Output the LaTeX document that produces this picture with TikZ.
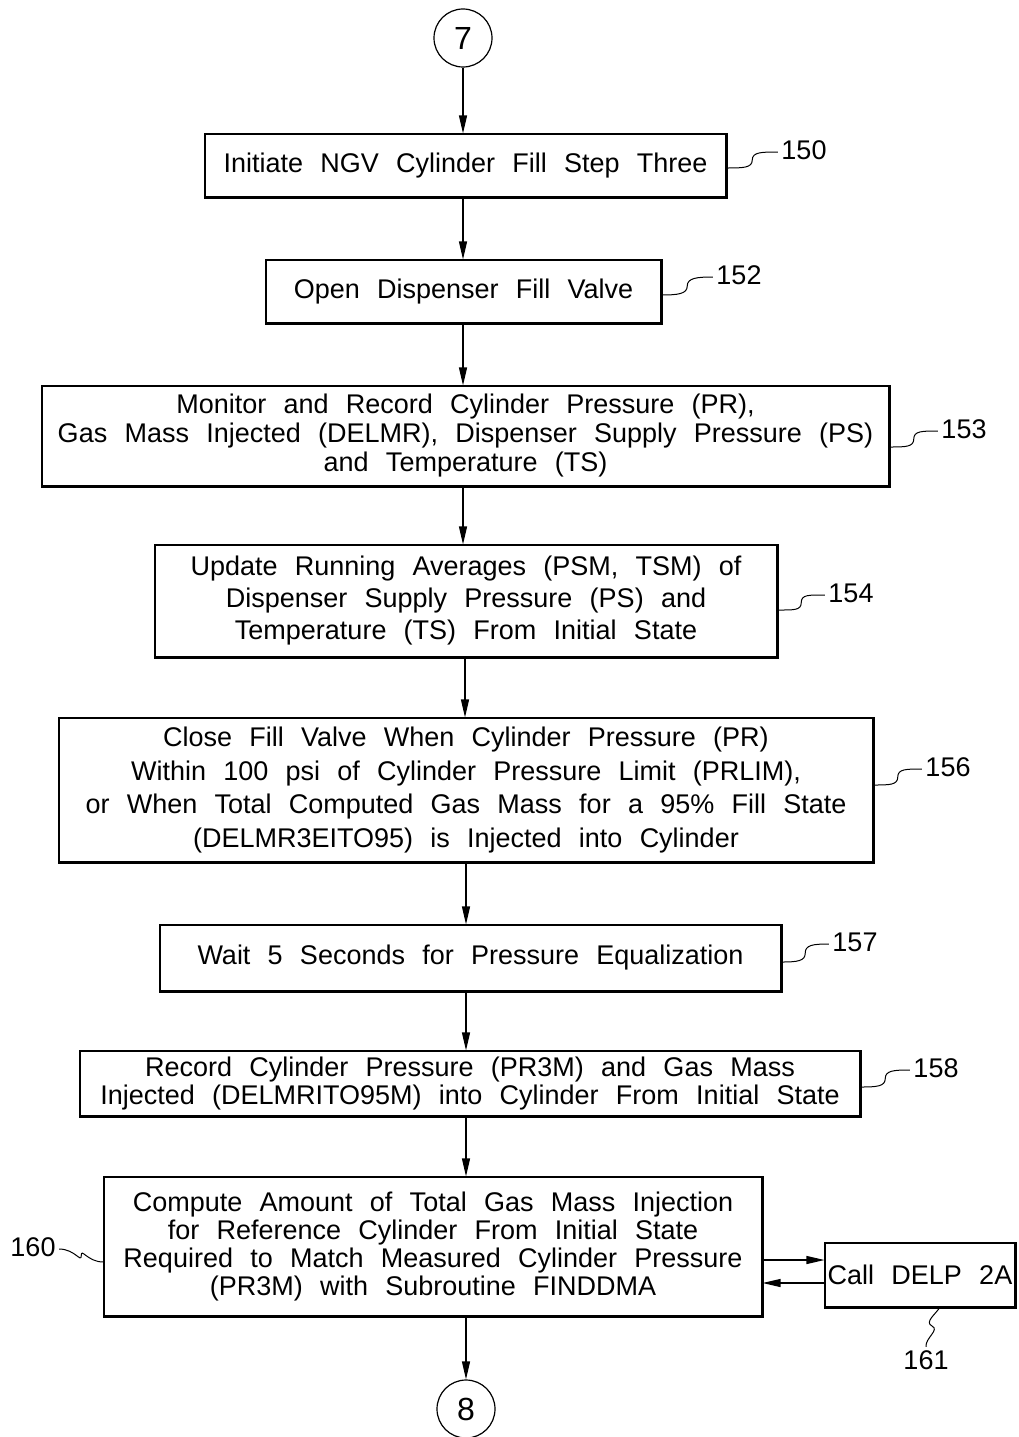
\documentclass[tikz,border=0pt]{standalone}
\usepackage{fontspec}
\setmainfont[WordSpace=2.3]{Liberation Sans}
\usetikzlibrary{arrows.meta,calc}
\newcommand\leadS[3]{%
  \coordinate (#1m) at ($(#2)!0.5!(#3)$);
  \draw[lead] (#2) .. controls ($(#2)+(16,0)$) and ($(#1m)+(0,8)$) .. (#1m)
     .. controls ($(#1m)+(0,-8)$) and ($(#3)+(-16,0)$) .. (#3);}
\begin{document}
\begin{tikzpicture}[x=1pt,y=-1pt,
  every node/.style={font=\fontsize{27}{32}\selectfont},
  box/.style={draw, line width=1.1pt, align=center, inner sep=0pt},
  conn/.style={draw, circle, line width=1.2pt, minimum size=58pt, inner sep=0pt, font=\fontsize{32}{36}\selectfont},
  arr/.style={line width=1.2pt, -{Triangle[length=18pt,width=8pt]}},
  lead/.style={line width=1pt},
  shadowline/.style={line width=3pt}
]
\useasboundingbox (0,0) rectangle (1018,1437);

\node[conn] (c7) at (463,38) {7};
\node[conn] (c8) at (466,1409) {8};

\node[box, minimum width=521pt, minimum height=63pt] (b150) at (465.5,165.5)
  {Initiate NGV Cylinder Fill Step Three};
\node[box, minimum width=395pt, minimum height=63pt] (b152) at (463.5,291.5)
  {Open Dispenser Fill Valve};
\node[box, minimum width=847pt, minimum height=100pt, font=\fontsize{27}{29}\selectfont] (b153) at (465.5,436)
  {Monitor and Record Cylinder Pressure (PR),\\Gas Mass Injected (DELMR), Dispenser Supply Pressure (PS)\\and Temperature (TS)};
\node[box, minimum width=622pt, minimum height=112pt, font=\fontsize{27}{32}\selectfont] (b154) at (466,601)
  {Update Running Averages (PSM, TSM) of\\Dispenser Supply Pressure (PS) and\\Temperature (TS) From Initial State};
\node[box, minimum width=814pt, minimum height=144pt, font=\fontsize{27}{33.5}\selectfont] (b156) at (466,790)
  {Close Fill Valve When Cylinder Pressure (PR)\\Within 100 psi of Cylinder Pressure Limit (PRLIM),\\or When Total Computed Gas Mass for a 95\% Fill State\\(DELMR3EITO95) is Injected into Cylinder};
\node[box, minimum width=621pt, minimum height=66pt] (b157) at (470.5,958)
  {Wait 5 Seconds for Pressure Equalization};
\node[box, minimum width=780pt, minimum height=65pt, font=\fontsize{27}{28}\selectfont] (b158) at (470,1083.5)
  {Record Cylinder Pressure (PR3M) and Gas Mass\\Injected (DELMRITO95M) into Cylinder From Initial State};
\node[box, minimum width=658pt, minimum height=139pt, font=\fontsize{27}{28}\selectfont] (b160) at (433,1246.5)
  {Compute Amount of Total Gas Mass Injection\\for Reference Cylinder From Initial State\\Required to Match Measured Cylinder Pressure\\(PR3M) with Subroutine FINDDMA};
\node[box, minimum width=190pt, minimum height=64pt] (b161) at (920,1275)
  {Call DELP 2A};

\foreach \n in {b150,b152,b153,b154,b156,b157,b158,b160,b161}
  \draw[shadowline] ([xshift=-0.5pt]\n.north east) -- ([xshift=-0.5pt,yshift=0.5pt]\n.south east) -- ([yshift=0.5pt]\n.south west);

% spine
\coordinate (sp) at (465,0);
\draw[arr] (c7) -- (c7 |- b150.north);
\draw[arr] (b150.south -| c7) -- (b152.north -| c7);
\draw[arr] (b152.south -| c7) -- (b153.north -| c7);
\draw[arr] (b153.south -| c7) -- (b154.north -| c7);
\draw[arr] (b154.south -| sp) -- (b156.north -| sp);
\draw[arr] (b156.south -| c8) -- (b157.north -| c8);
\draw[arr] (b157.south -| c8) -- (b158.north -| c8);
\draw[arr] (b158.south -| c8) -- (b160.north -| c8);
\draw[arr] (b160.south -| c8) -- (c8);
\draw[arr] (b160.east |- 0,1260) -- (b161.west |- 0,1260);
\draw[arr] (b161.west |- 0,1283) -- (b160.east |- 0,1283);

% reference numerals
\node (l150) at (804,150) {150};
\node (l152) at (739,275) {152};
\node (l153) at (964,429) {153};
\node (l154) at (851,593) {154};
\node (l156) at (948,767) {156};
\node (l157) at (855,942) {157};
\node (l158) at (936,1068) {158};
\node (l160) at (33,1247) {160};
\node (l161) at (926,1360) {161};

\coordinate (s150) at (b150.east |- 0,168);
\coordinate (s152) at (b152.east |- 0,295);
\coordinate (s153) at (b153.east |- 0,447);
\coordinate (s154) at (b154.east |- 0,610);
\coordinate (s156) at (b156.east |- 0,785);
\coordinate (s157) at (b157.east |- 0,962);
\coordinate (s158) at (b158.east |- 0,1087);
\leadS{q150}{s150}{[yshift=-2pt]l150.west}
\leadS{q152}{s152}{[yshift=-2pt]l152.west}
\leadS{q153}{s153}{[yshift=-2pt]l153.west}
\leadS{q154}{s154}{[yshift=-2pt]l154.west}
\leadS{q156}{s156}{[yshift=-2pt]l156.west}
\leadS{q157}{s157}{[yshift=-2pt]l157.west}
\leadS{q158}{s158}{[yshift=-2pt]l158.west}
\coordinate (s160) at (b160.west |- 0,1262);
\leadS{q160}{[yshift=-2pt]l160.east}{s160}
\coordinate (s161) at (940,1307);
\coordinate (q161m) at (932,1326);
\draw[lead] (s161) .. controls (936,1314) and (924,1322) .. (q161m)
   .. controls (940,1330) and (925,1338) .. (l161.north);
\end{tikzpicture}
\end{document}
